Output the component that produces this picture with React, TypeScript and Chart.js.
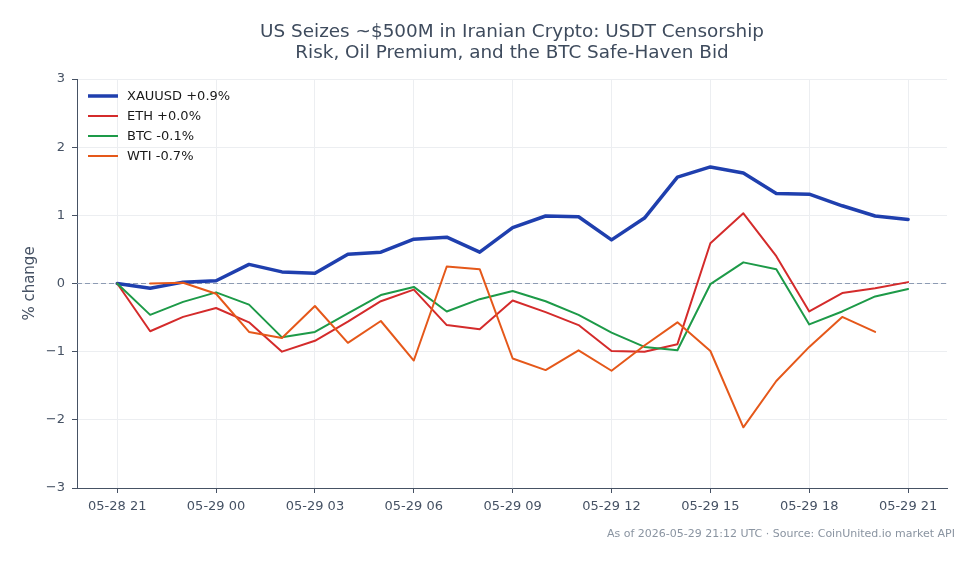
import React, { useEffect, useRef } from "react";
import { Chart, registerables } from "chart.js";

Chart.register(...registerables);

// Hourly observations, 05-28 21:00 through 05-29 21:00 UTC
const hours = [
  "05-28 21", "05-28 22", "05-28 23", "05-29 00", "05-29 01", "05-29 02", "05-29 03",
  "05-29 04", "05-29 05", "05-29 06", "05-29 07", "05-29 08", "05-29 09", "05-29 10",
  "05-29 11", "05-29 12", "05-29 13", "05-29 14", "05-29 15", "05-29 16", "05-29 17",
  "05-29 18", "05-29 19", "05-29 20", "05-29 21",
];

const tickLabels = [
  "05-28 21", "05-29 00", "05-29 03", "05-29 06", "05-29 09",
  "05-29 12", "05-29 15", "05-29 18", "05-29 21",
];

const yTicks = [-3, -2, -1, 0, 1, 2, 3];

// % change since the first reading
const xauusd = [
  0, -0.07, 0.02, 0.04, 0.28, 0.17, 0.15, 0.43, 0.46, 0.65, 0.68, 0.46, 0.82,
  0.99, 0.98, 0.64, 0.96, 1.56, 1.71, 1.62, 1.32, 1.31, 1.14, 0.99, 0.94,
];
const eth = [
  0, -0.7, -0.49, -0.36, -0.57, -1.0, -0.84, -0.56, -0.26, -0.09, -0.61, -0.67, -0.25,
  -0.42, -0.61, -0.99, -1.0, -0.89, 0.59, 1.03, 0.4, -0.41, -0.14, -0.07, 0.02,
];
const btc = [
  0, -0.46, -0.27, -0.13, -0.31, -0.79, -0.71, -0.44, -0.17, -0.05, -0.41, -0.23, -0.11,
  -0.26, -0.46, -0.72, -0.93, -0.98, -0.01, 0.31, 0.21, -0.6, -0.41, -0.19, -0.08,
];
const wti = [
  null, 0.0, 0.01, -0.15, -0.71, -0.8, -0.33, -0.87, -0.55, -1.13, 0.25, 0.21, -1.1,
  -1.27, -0.98, -1.28, -0.91, -0.57, -0.99, -2.11, -1.43, -0.93, -0.49, -0.71, null,
];

const seriesNames = ["XAUUSD", "ETH", "BTC", "WTI"];
const seriesValues = [xauusd, eth, btc, wti];
const seriesColors = ["#1f3fae", "#d42b2b", "#1d9a48", "#e5581a"];
const seriesWidths = [3.5, 2, 2, 2];

const titleLines = [
  "US Seizes ~$500M in Iranian Crypto: USDT Censorship",
  "Risk, Oil Premium, and the BTC Safe-Haven Bid",
];
const footerText = "As of 2026-05-29 21:12 UTC · Source: CoinUnited.io market API";

const FONT = "'DejaVu Sans', sans-serif";

function lastValue(arr: (number | null)[]): number {
  for (let i = arr.length - 1; i >= 0; i--) {
    const v = arr[i];
    if (v !== null) return v;
  }
  return 0;
}

function legendText(name: string, arr: (number | null)[]): string {
  const v = lastValue(arr);
  const s = (Math.round(v * 10) / 10).toFixed(1);
  return `${name} ${v >= 0 ? "+" + s : s}%`;
}

const decorations = {
  id: "decorations",
  beforeDatasetsDraw(chart: any) {
    const { ctx, chartArea } = chart;
    const y0 = chart.scales.y.getPixelForValue(0);
    ctx.save();
    ctx.strokeStyle = "#8d9bb3";
    ctx.lineWidth = 1;
    ctx.setLineDash([5, 3]);
    ctx.beginPath();
    ctx.moveTo(chartArea.left, y0);
    ctx.lineTo(chartArea.right, y0);
    ctx.stroke();
    ctx.restore();
  },
  afterDraw(chart: any) {
    const { ctx, chartArea } = chart;
    ctx.save();
    // title
    ctx.fillStyle = "#3e4b5d";
    ctx.font = `18.4px ${FONT}`;
    ctx.textAlign = "center";
    ctx.textBaseline = "middle";
    const cx = (chartArea.left + chartArea.right) / 2;
    titleLines.forEach((line, i) => ctx.fillText(line, cx, 24 + i * 21));

    // legend
    ctx.font = `13px ${FONT}`;
    ctx.textAlign = "left";
    seriesNames.forEach((name, i) => {
      const y = chartArea.top + 17 + i * 20;
      ctx.strokeStyle = seriesColors[i];
      ctx.lineWidth = seriesWidths[i];
      ctx.beginPath();
      ctx.moveTo(chartArea.left + 11, y);
      ctx.lineTo(chartArea.left + 41, y);
      ctx.stroke();
      ctx.fillStyle = "#1a1a1a";
      ctx.fillText(legendText(name, seriesValues[i]), chartArea.left + 50, y + 1);
    });

    // footer
    ctx.fillStyle = "#8a94a1";
    ctx.font = `11px ${FONT}`;
    ctx.textAlign = "right";
    ctx.fillText(footerText, chartArea.right + 8, 526);
    ctx.restore();
  },
};

export default function App() {
  const canvasRef = useRef<HTMLCanvasElement | null>(null);

  useEffect(() => {
    if (!canvasRef.current) return;
    const datasets = seriesNames.map((name, i) => ({
      label: name,
      data: seriesValues[i].map((v, j) => ({ x: j, y: v })),
      borderColor: seriesColors[i],
      backgroundColor: seriesColors[i],
      borderWidth: seriesWidths[i],
      pointRadius: 0,
      tension: 0,
      spanGaps: false,
      borderJoinStyle: "round" as const,
      borderCapStyle: "round" as const,
      order: seriesNames.length - i,
    }));

    const chart = new Chart(canvasRef.current, {
      type: "line",
      data: { labels: hours, datasets },
      options: {
        animation: false,
        responsive: true,
        maintainAspectRatio: false,
        layout: { padding: { top: 71, right: 24, left: 0, bottom: 32 } },
        plugins: {
          legend: { display: false },
          title: { display: false },
          tooltip: { enabled: false },
        },
        scales: {
          x: {
            type: "linear",
            min: -1.22,
            max: hours.length - 1 + 1.18,
            afterBuildTicks(scale: any) {
              scale.ticks = tickLabels.map((_, i) => ({ value: i * 3 }));
            },
            afterFit(scale: any) {
              scale.height = 36;
            },
            ticks: {
              autoSkip: false,
              maxRotation: 0,
              padding: 6,
              color: "#465264",
              font: { family: FONT, size: 13 },
              callback: (value: any) => tickLabels[Math.round(Number(value) / 3)] ?? "",
            },
            grid: {
              color: "#eceef1",
              tickColor: "#465264",
              tickLength: 5,
              drawTicks: true,
            },
            border: { display: true, color: "#465264", width: 1 },
          },
          y: {
            min: -3,
            max: 3,
            afterBuildTicks(scale: any) {
              scale.ticks = yTicks.map((v) => ({ value: v }));
            },
            afterFit(scale: any) {
              scale.width = 69;
            },
            ticks: {
              padding: 7,
              color: "#465264",
              font: { family: FONT, size: 13 },
              callback: (value: any) => String(value).replace("-", "\u2212"),
            },
            grid: {
              color: "#eceef1",
              tickColor: "#465264",
              tickLength: 5,
            },
            border: { display: true, color: "#465264", width: 1 },
            title: {
              display: true,
              text: "% change",
              color: "#465264",
              font: { family: FONT, size: 15 },
              padding: { top: 13, bottom: 0 },
            },
          },
        },
      },
      plugins: [decorations],
    });

    return () => chart.destroy();
  }, []);

  return (
    <div style={{ width: 963, height: 548, position: "relative", background: "#ffffff" }}>
      <canvas ref={canvasRef} />
    </div>
  );
}
